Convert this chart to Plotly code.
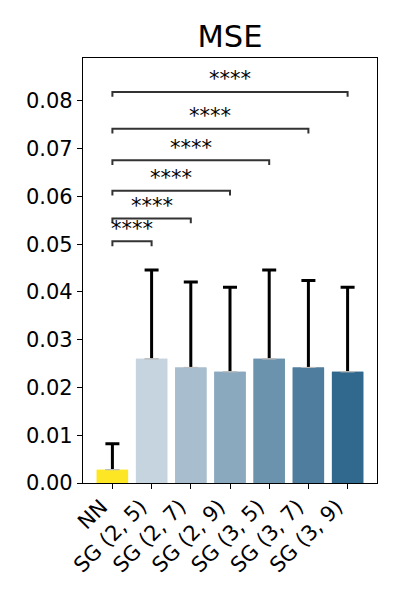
import plotly.graph_objects as go

categories = ["NN", "SG (2, 5)", "SG (2, 7)", "SG (2, 9)", "SG (3, 5)", "SG (3, 7)", "SG (3, 9)"]
mse_mean = [0.0028, 0.0260, 0.0242, 0.0233, 0.0260, 0.0242, 0.0233]
mse_err = [0.0054, 0.0186, 0.0179, 0.0177, 0.0186, 0.0182, 0.0177]
bar_colors = ["#FDE725", "#C5D4DF", "#A8BECE", "#8AA9BF", "#6C93AE", "#4F7D9E", "#31688E"]

comp_a = [0, 0, 0, 0, 0, 0]
comp_b = [1, 2, 3, 4, 5, 6]
comp_h = [0.0506, 0.0554, 0.0612, 0.0676, 0.0742, 0.0819]
comp_lbl = ["****", "****", "****", "****", "****", "****"]
tick_drop = 0.001

FONT = "DejaVu Sans"
xs = list(range(len(categories)))

fig = go.Figure()
fig.add_trace(go.Bar(
    x=xs, y=mse_mean, width=0.8,
    marker=dict(color=bar_colors, line=dict(width=0)),
    error_y=dict(type="data", array=mse_err, color="black", thickness=3, width=7),
    showlegend=False,
))
fig.add_trace(go.Bar(
    x=xs, y=mse_mean, width=0.8,
    marker=dict(color=bar_colors, line=dict(width=0)),
    error_y=dict(type="data", array=[0] * len(xs), color="#BBBBBB", thickness=1, width=7),
    showlegend=False, hoverinfo="skip",
))

for a, b, h, lbl in zip(comp_a, comp_b, comp_h, comp_lbl):
    fig.add_trace(go.Scatter(
        x=[a, a, b, b], y=[h - tick_drop, h, h, h - tick_drop],
        mode="lines", line=dict(color="#333333", width=2),
        showlegend=False, hoverinfo="skip",
    ))
    fig.add_annotation(x=(a + b) / 2, y=h, text=lbl, showarrow=False,
                       yanchor="middle", yshift=12.5,
                       font=dict(family=FONT, size=21, color="black"))

fig.update_layout(
    width=400, height=600,
    margin=dict(l=83, r=23, t=58, b=117),
    plot_bgcolor="white", paper_bgcolor="white",
    font=dict(family=FONT, size=21, color="black"),
    title=dict(text="MSE", x=0.5, xanchor="center", xref="paper",
               y=1 - 36 / 600, yanchor="middle", yref="container",
               font=dict(family=FONT, size=30.5, color="black")),
    barmode="overlay",
)
fig.update_xaxes(
    range=[-0.75, 6.75], tickmode="array",
    tickvals=xs, ticktext=categories,
    tickangle=-45, showline=True, linecolor="black", linewidth=1.3,
    mirror=True, ticks="outside", ticklen=5, tickcolor="black",
    showgrid=False, zeroline=False,
    ticklabelshift=-11, ticklabelstandoff=-3,
    tickfont=dict(family=FONT, size=21, color="black"),
)
fig.update_yaxes(
    range=[0, 0.089], dtick=0.01, tick0=0, tickformat=".2f",
    showline=True, linecolor="black", linewidth=1.3, mirror=True,
    ticks="outside", ticklen=5, tickcolor="black",
    showgrid=False, zeroline=False,
    tickfont=dict(family=FONT, size=21, color="black"),
)

fig.write_html("out.html")
